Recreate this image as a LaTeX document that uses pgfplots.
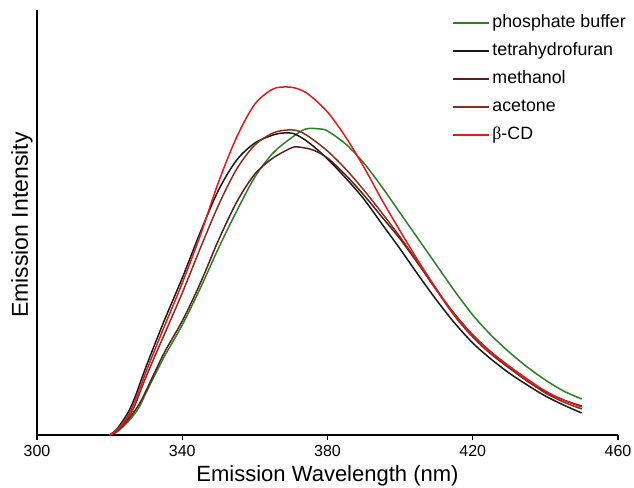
\documentclass[border=0pt]{standalone}
\usepackage{pgfplots}
\pgfplotsset{compat=1.18}
\usepackage{fontspec}
\setmainfont{Liberation Sans}
\newfontfamily\serifb{Liberation Serif}
\definecolor{cgreen}{HTML}{2E7F25}
\definecolor{cblack}{HTML}{1A1A1A}
\definecolor{cmeth}{HTML}{5C1F1F}
\definecolor{cacet}{HTML}{8A2E1E}
\definecolor{cred}{HTML}{E3191C}
\begin{document}
\begin{tikzpicture}
\begin{axis}[
  name=ax,
  scale only axis,
  width=581pt, height=425pt,
  xmin=300, xmax=460, ymin=0, ymax=425,
  axis x line=bottom, axis y line=left,
  axis line style={-, line width=1.5pt, black},
  xtick={300,340,380,420,460},
  ytick=\empty,
  tick align=outside,
  major tick length=5pt,
  tick style={line width=1.2pt, black},
  /pgf/number format/assume math mode=true,
  ticklabel style={font=\fontsize{16}{16}\selectfont},
  xticklabel style={yshift=-2pt},
  xlabel={Emission Wavelength (nm)},
  ylabel={Emission Intensity},
  xlabel style={font=\fontsize{22}{22}\selectfont, at={(axis description cs:0.5,0)}, anchor=north, yshift=-27pt},
  ylabel style={font=\fontsize{23}{23}\selectfont, at={(axis description cs:-0.007,0.494)}, anchor=south, rotate=0, inner sep=0pt},
  legend style={draw=none, fill=none, inner sep=0pt, at={(axis description cs:0.714,0.992)}, anchor=north west,
    font=\fontsize{17.8}{17.8}\selectfont, nodes={inner sep=1pt, text height=13pt, text depth=4pt},
    row sep=9pt, column sep=2pt},
  legend cell align=left,
  legend image code/.code={\draw[#1, line width=1.4pt] (0pt,0pt) -- (36pt,0pt);},
  every axis plot/.append style={line width=1.5pt, smooth, tension=0.5},
]
\addplot[color=cgreen] coordinates {
(320,0) (322,3) (325,13) (328,27) (330,42) (335,78) (340,110) (345,147) (350,187) (355,224) (360,258) (365,282) (370,297) (374,306) (378,306) (380,304) (385,291) (390,272) (395,248) (400,222) (405,196) (410,170) (415,144) (420,120) (425,100) (430,83) (435,68) (440,55) (445,44) (450,36)};
\addlegendentry{phosphate buffer}
\addplot[color=cblack] coordinates {
(320,0) (322,6) (325,22) (327,38) (330,68) (335,114) (340,157) (345,203) (350,245) (355,275) (360,292) (365,300) (368,302) (371,301) (375,292) (380,276) (385,257) (390,236) (395,211) (400,186) (405,160) (410,135) (415,112) (420,92) (425,76) (430,62) (435,50) (440,39) (445,30) (450,22)};
\addlegendentry{tetrahydrofuran}
\addplot[color=cmeth] coordinates {
(320,0) (322,4) (325,15) (328,30) (330,44) (335,82) (340,114) (345,152) (350,195) (355,233) (360,261) (365,277) (370,287) (372,288) (376,285) (380,277) (385,260) (390,240) (395,218) (400,196) (405,171) (410,145) (415,121) (420,100) (425,83) (430,68) (435,54) (440,43) (445,35) (450,29)};
\addlegendentry{methanol}
\addplot[color=cacet] coordinates {
(320,0) (322,4) (325,17) (327,30) (330,58) (335,100) (340,142) (345,187) (350,230) (355,266) (360,290) (365,302) (369,305) (372,304) (375,298) (380,284) (385,266) (390,245) (395,222) (400,198) (405,172) (410,145) (415,119) (420,98) (425,81) (430,67) (435,54) (440,42) (445,33) (450,26)};
\addlegendentry{acetone}
\addplot[color=cred] coordinates {
(320,0) (322,5) (325,19) (327,34) (330,63) (335,108) (340,152) (345,200) (350,253) (355,298) (360,331) (365,346) (369,348) (372,346) (375,340) (380,323) (385,298) (390,268) (395,235) (400,204) (405,174) (410,146) (415,120) (420,100) (425,83) (430,69) (435,56) (440,44) (445,35) (450,28)};
\addlegendentry{{\serifb β}-CD}
\end{axis}
\pgfresetboundingbox
\path[use as bounding box] ([shift={(-37pt,-52pt)}]ax.south west) rectangle ([shift={(597pt,435pt)}]ax.south west);
\end{tikzpicture}
\end{document}
